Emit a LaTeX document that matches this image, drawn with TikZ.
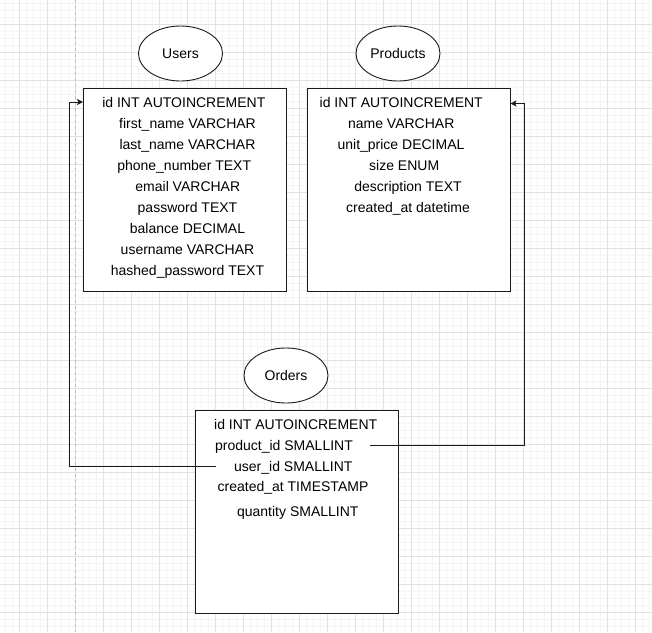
\documentclass[tikz,border=0pt]{standalone}
\usepackage{fontspec}
\setmainfont{Liberation Sans}
\usetikzlibrary{shapes.geometric,arrows.meta}

\definecolor{gridmajor}{HTML}{E2E2E2}
\definecolor{gridminor}{HTML}{F4F4F4}
\definecolor{guide}{HTML}{BDBDBD}
\definecolor{ink}{HTML}{1A1A1A}

\tikzset{
  table/.style={draw=ink, line width=1pt, fill=white, rectangle, inner sep=0pt,
                minimum width=203pt, minimum height=203pt},
  title/.style={draw=ink, line width=0.9pt, fill=white, ellipse, inner sep=0pt,
                minimum width=84pt, minimum height=55pt,
                font=\fontsize{14}{16}\selectfont},
  row/.style={anchor=base, inner sep=0pt, font=\fontsize{14}{16}\selectfont},
  link/.style={draw=ink, line width=0.9pt},
  tip/.style={-{Stealth[length=6pt,width=6pt,inset=1.5pt]}},
}

\begin{document}
\begin{tikzpicture}[x=1pt,y=-1pt]
  \useasboundingbox (0,0) rectangle (652,632);
  \fill[white] (0,0) rectangle (652,632);

  % background grid: faint minor lines every 7, major lines every 28
  \foreach \gx in {0,...,93} {
    \draw[gridminor, line width=0.8pt] ({5.3+7*\gx},0) -- ({5.3+7*\gx},632);
  }
  \foreach \gy in {0,...,90} {
    \draw[gridminor, line width=0.8pt] (0,{3.3+7*\gy}) -- (652,{3.3+7*\gy});
  }
  \foreach \gx in {0,...,23} {
    \draw[gridmajor, line width=0.9pt] ({19.3+28*\gx},0) -- ({19.3+28*\gx},632);
  }
  \foreach \gy in {0,...,22} {
    \draw[gridmajor, line width=0.9pt] (0,{24.3+28*\gy}) -- (652,{24.3+28*\gy});
  }

  % page guide
  \draw[guide, line width=1pt, dash pattern=on 3pt off 3pt] (75.7,0) -- (75.7,632);

  % tables
  \node[table] (users)    at (185,189.5) {};
  \node[table] (products) at (408.5,189.5) {};
  \node[table] (orders)   at (296.5,511.5) {};

  % table titles
  \node[title] (usersT)    at (180.5,53.5) {Users};
  \node[title] (productsT) at (398,53.5)   {Products};
  \node[title] (ordersT)   at (286,375.5)  {Orders};

  % Users columns
  \node[row] (u1) at (183.8,107.5) {id INT AUTOINCREMENT};
  \node[row] (u2) at (187.5,128.5) {first\_name VARCHAR};
  \node[row] (u3) at (187.5,149.5) {last\_name VARCHAR};
  \node[row] (u4) at (184.2,170.5) {phone\_number TEXT};
  \node[row] (u5) at (187.8,191.5) {email VARCHAR};
  \node[row] (u6) at (187.5,212.5) {password TEXT};
  \node[row] (u7) at (187.5,233.5) {balance DECIMAL};
  \node[row] (u8) at (187.5,254.5) {username VARCHAR};
  \node[row] (u9) at (187.5,275.5) {hashed\_password TEXT};

  % Products columns
  \node[row] (p1) at (401.2,107.5) {id INT AUTOINCREMENT};
  \node[row] (p2) at (401.2,128.5) {name VARCHAR};
  \node[row] (p3) at (401.0,149.5) {unit\_price DECIMAL};
  \node[row] (p4) at (404.2,170.5) {size ENUM};
  \node[row] (p5) at (408.0,191.5) {description TEXT};
  \node[row] (p6) at (408.0,212.5) {created\_at datetime};

  % Orders columns
  \node[row] (o1) at (295.7,429.0) {id INT AUTOINCREMENT};
  \node[row] (o2) at (284.0,450.7) {product\_id SMALLINT};
  \node[row] (o3) at (293.3,471.3) {user\_id SMALLINT};
  \node[row] (o4) at (293.0,491.7) {created\_at TIMESTAMP};
  \node[row] (o5) at (297.8,516.7) {quantity SMALLINT};

  % foreign key links
  \coordinate (fkUser)    at (215.7,466.3);
  \coordinate (fkProduct) at (370,445.7);
  \coordinate (pkUser)    at (users.west |- 0,102);
  \coordinate (pkProduct) at (products.east |- 0,103.5);

  \draw[link, tip] (fkUser) -| (69,102) -- (pkUser);
  \draw[link, tip] (fkProduct) -| (524,103.5) -- (pkProduct);
\end{tikzpicture}
\end{document}
